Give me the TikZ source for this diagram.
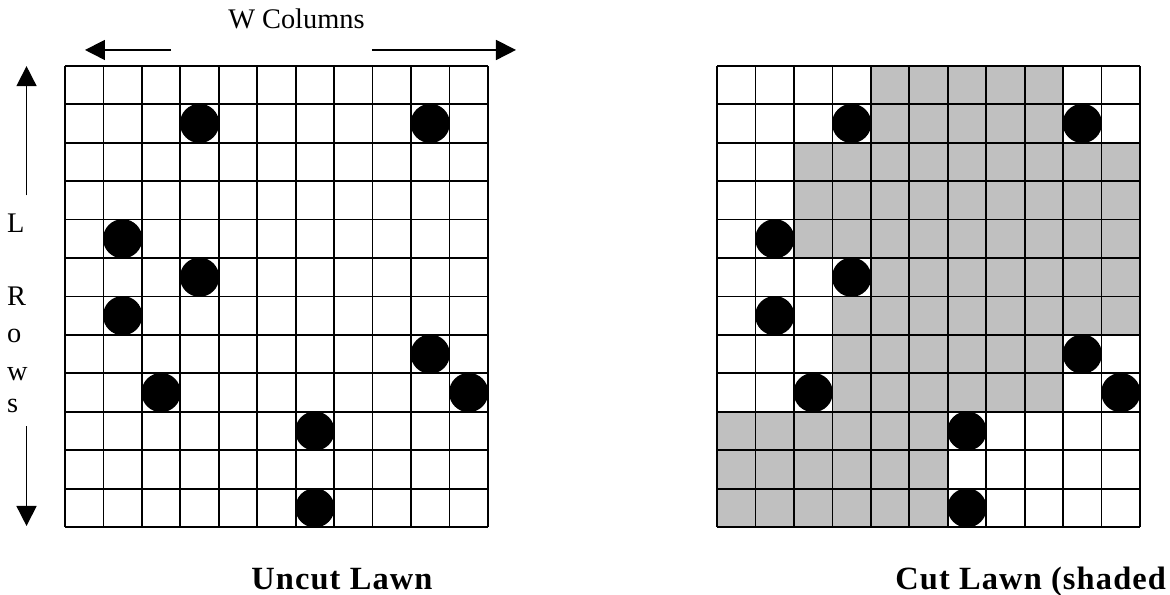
\documentclass[tikz,border=0pt]{standalone}
\usepackage{fontspec}
\setmainfont{Liberation Serif}
\newfontfamily\lawnfont{Liberation Serif}[LetterSpace=3.5]
\usetikzlibrary{arrows.meta}
\definecolor{cutgray}{RGB}{192,192,192}

\begin{document}
\begin{tikzpicture}[x=1cm, y=1cm,
    gridline/.style={line width=1.3pt},
    dimarrow/.style={-{Triangle[length=0.52cm, width=0.52cm]}, line width=1.2pt},
    sidetxt/.style={inner sep=0pt, font=\fontsize{21}{25}\selectfont},
    lawntxt/.style={inner sep=0pt, anchor=base west, font=\lawnfont\bfseries\fontsize{24}{28}\selectfont}]
  \useasboundingbox (-1.69,-1.74) rectangle (28.74,13.71);
  % cut part of the right lawn
  \begin{scope}[xshift=16.96cm]
    \foreach \r/\a/\b in {0/4/8, 1/4/8, 2/2/10, 3/2/10, 4/2/10, 5/4/10,
                          6/3/10, 7/3/8, 8/3/8, 9/0/5, 10/0/5, 11/0/5}
      \fill[cutgray] (\a,11-\r) rectangle (\b+1,12-\r);
  \end{scope}
  % both lawns, with the same trees
  \foreach \lx in {0,16.96} {
    \begin{scope}[xshift=\lx cm]
      \draw[gridline] (0,0) grid (11,12);
      \foreach \c/\r in {3/1, 9/1, 1/4, 3/5, 1/6, 9/7, 2/8, 10/8, 6/9, 6/11}
        \fill (\c+0.5,11.5-\r) circle (0.51);
    \end{scope}
  }
  % W columns
  \node[sidetxt, anchor=base] (wcols) at (6.02,12.97) {W Columns};
  \coordinate (wleft-from) at (2.76,12.41);
  \coordinate (wleft-to) at (0.52,12.41);
  \coordinate (wright-from) at (7.98,12.41);
  \coordinate (wright-to) at (11.73,12.41);
  \draw[dimarrow] (wleft-from) -- (wleft-to);
  \draw[dimarrow] (wright-from) -- (wright-to);
  % L rows
  \foreach \ch/\yy in {L/7.67, R/5.77, o/4.81, w/3.82, s/2.99}
    \node[sidetxt, anchor=base west] (rows-\ch) at (-1.51,\yy) {\ch};
  \coordinate (lup-from) at (-1.0,8.63);
  \coordinate (lup-to) at (-1.0,11.99);
  \coordinate (ldown-from) at (-1.0,2.63);
  \coordinate (ldown-to) at (-1.0,0.03);
  \draw[dimarrow] (lup-from) -- (lup-to);
  \draw[dimarrow] (ldown-from) -- (ldown-to);
  % captions
  \node[lawntxt] (uncut) at (4.84,-1.61) {Uncut Lawn};
  \node[lawntxt] (cut) at (21.59,-1.61) {Cut Lawn (shaded};
\end{tikzpicture}
\end{document}
